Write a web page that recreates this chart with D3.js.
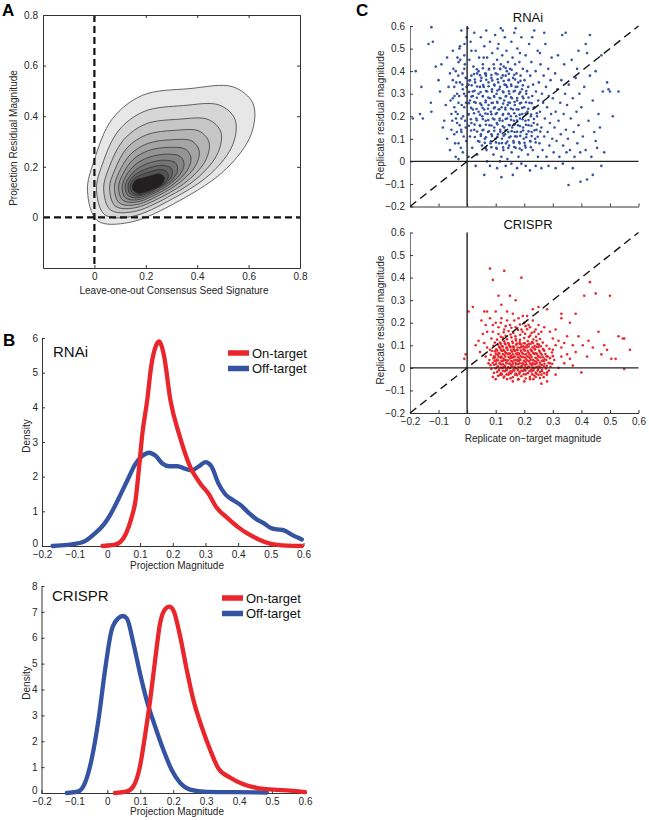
<!DOCTYPE html>
<html><head><meta charset="utf-8">
<script src="https://cdn.jsdelivr.net/npm/d3@7"></script>
<style>
body{margin:0;background:#fff}
svg{display:block}
text{font-family:"Liberation Sans",Arial,Helvetica,sans-serif}
</style>
</head><body>
<svg id="fig" width="649" height="820"></svg>
<script>
// ---------------- DATA ----------------
// Panel A: filled density contours (outer -> core), points in data units
const contourRings = [
 [[-0.027,0.106],[-0.001,0.225],[0.070,0.390],[0.188,0.483],[0.370,0.509],[0.539,0.516],[0.617,0.450],[0.611,0.331],[0.513,0.192],[0.331,0.066],[0.135,-0.020],[0.012,-0.013]],
 [[0.008,0.110],[0.031,0.210],[0.094,0.343],[0.194,0.419],[0.346,0.442],[0.486,0.444],[0.547,0.388],[0.539,0.289],[0.455,0.175],[0.303,0.073],[0.143,0.003],[0.040,0.011]],
 [[0.036,0.113],[0.057,0.197],[0.113,0.306],[0.199,0.369],[0.328,0.388],[0.443,0.387],[0.492,0.338],[0.481,0.256],[0.408,0.162],[0.282,0.078],[0.149,0.022],[0.062,0.030]],
 [[0.059,0.116],[0.079,0.187],[0.128,0.276],[0.204,0.327],[0.312,0.344],[0.408,0.341],[0.446,0.297],[0.434,0.228],[0.370,0.151],[0.264,0.082],[0.153,0.037],[0.081,0.045]],
 [[0.078,0.118],[0.096,0.179],[0.141,0.250],[0.207,0.292],[0.300,0.307],[0.379,0.302],[0.408,0.263],[0.394,0.205],[0.337,0.142],[0.249,0.086],[0.157,0.049],[0.096,0.058]],
 [[0.094,0.120],[0.111,0.172],[0.151,0.229],[0.210,0.264],[0.289,0.277],[0.355,0.269],[0.376,0.235],[0.362,0.187],[0.311,0.134],[0.236,0.089],[0.161,0.060],[0.109,0.069]],
 [[0.108,0.121],[0.124,0.166],[0.161,0.210],[0.213,0.238],[0.280,0.250],[0.334,0.241],[0.349,0.210],[0.333,0.170],[0.288,0.128],[0.225,0.092],[0.164,0.069],[0.120,0.078]],
 [[0.120,0.123],[0.136,0.160],[0.169,0.194],[0.215,0.216],[0.271,0.226],[0.315,0.216],[0.324,0.189],[0.308,0.155],[0.267,0.122],[0.216,0.094],[0.166,0.077],[0.130,0.087]],
 [[0.131,0.124],[0.145,0.156],[0.176,0.180],[0.217,0.197],[0.264,0.206],[0.299,0.194],[0.303,0.170],[0.286,0.143],[0.249,0.117],[0.208,0.096],[0.168,0.084],[0.138,0.094]],
 [[0.140,0.125],[0.153,0.152],[0.182,0.168],[0.219,0.181],[0.259,0.189],[0.285,0.177],[0.286,0.154],[0.268,0.132],[0.235,0.113],[0.201,0.098],[0.170,0.089],[0.145,0.100]],
 [[0.148,0.126],[0.162,0.148],[0.188,0.156],[0.220,0.165],[0.253,0.172],[0.272,0.159],[0.268,0.139],[0.250,0.122],[0.220,0.109],[0.194,0.099],[0.172,0.095],[0.152,0.106]]
];
const contourFills = ["#e7e7e7","#d6d6d6","#c6c6c6","#b5b5b5","#a4a4a4","#949494","#848484","#747474","#646464","#545454","#231f20"];
const aTicks = [0, 0.2, 0.4, 0.6, 0.8];

// Panel B: density curves [x, density]
const rnaiOn = [[-0.015,0],[0.02,0.03],[0.04,0.12],[0.056,0.34],[0.074,0.82],[0.086,1.31],[0.097,2.27],[0.107,3.24],[0.122,4.21],[0.134,5.18],[0.148,5.76],[0.158,5.9],[0.173,5.5],[0.193,4.2],[0.219,3.24],[0.254,2.27],[0.285,1.79],[0.31,1.5],[0.334,1.11],[0.366,0.82],[0.402,0.53],[0.432,0.34],[0.463,0.19],[0.498,0.07],[0.549,0.01],[0.595,0]];
const rnaiOff = [[-0.168,0],[-0.122,0.03],[-0.071,0.13],[-0.041,0.34],[-0.010,0.63],[0.010,0.92],[0.036,1.40],[0.061,1.89],[0.086,2.37],[0.107,2.6],[0.127,2.69],[0.148,2.6],[0.168,2.38],[0.19,2.3],[0.214,2.3],[0.24,2.22],[0.258,2.18],[0.28,2.3],[0.30,2.42],[0.318,2.3],[0.34,1.8],[0.36,1.5],[0.385,1.32],[0.405,1.2],[0.43,0.98],[0.455,0.78],[0.478,0.66],[0.50,0.52],[0.52,0.48],[0.54,0.45],[0.565,0.32],[0.595,0.19]];
const crisprOn = [[0.023,0],[0.059,0.06],[0.079,0.26],[0.099,1.03],[0.114,2.19],[0.130,3.6],[0.145,5.14],[0.160,6.56],[0.175,7.1],[0.188,7.2],[0.200,7.07],[0.221,6.05],[0.241,4.76],[0.261,3.6],[0.286,2.57],[0.312,1.67],[0.337,0.95],[0.372,0.6],[0.413,0.34],[0.453,0.2],[0.504,0.13],[0.555,0.09],[0.6,0.03]];
const crisprOff = [[-0.123,0],[-0.088,0.06],[-0.068,0.39],[-0.048,1.29],[-0.027,2.83],[-0.007,4.76],[0.013,6.3],[0.033,6.75],[0.047,6.84],[0.059,6.75],[0.079,5.79],[0.099,4.63],[0.119,3.6],[0.145,2.57],[0.170,1.67],[0.195,0.9],[0.221,0.39],[0.251,0.13],[0.302,0.04],[0.383,0.03],[0.484,0.02]];
const bXTicks = [-0.2,-0.1,0,0.1,0.2,0.3,0.4,0.5,0.6];
const rnaiYTicks = [0,1,2,3,4,5,6];
const crisprYTicks = [0,1,2,3,4,5,6,7,8];
const legendLabels = ["On-target","Off-target"];

// Panel C: replicate scatter [on-target, residual]
const cTicks = [-0.2,-0.1,0,0.1,0.2,0.3,0.4,0.5,0.6];
const rnaiScatter = [
[-0.19,0.19],[-0.18,0.40],[-0.165,0.21],[-0.16,0.33],[-0.155,0.19],[-0.135,0.52],[-0.12,0.53],[-0.125,0.595],[-0.127,0.26],[-0.125,0.22],[-0.11,0.42],[-0.10,0.36],[-0.09,0.43],[-0.095,0.31],[-0.085,0.15],[-0.08,0.18],[-0.075,0.25],[-0.07,0.10],[-0.07,0.46],[-0.065,0.33],[-0.06,0.39],[-0.06,0.05],[-0.055,0.21],[-0.055,0.14],[-0.05,0.49],[-0.05,0.28],[-0.05,0.36],
[-0.045,0.12],[-0.04,0.22],[-0.04,0.40],[-0.04,0.02],[-0.035,0.30],[-0.035,0.17],[-0.03,0.44],[-0.03,0.08],[-0.03,0.26],[-0.025,0.35],[-0.025,0.51],[-0.02,0.19],[-0.02,0.58],[-0.02,0.13],[-0.015,0.32],[-0.015,0.04],[-0.01,0.24],[-0.01,0.41],[-0.01,0.47],[-0.005,0.15],[-0.005,0.29],[-0.005,0.37],[-0.002,0.55],[-0.03,0.01],[-0.045,0.33],
[-0.058,0.27],[-0.052,0.18],[-0.048,0.41],[-0.045,0.24],[-0.042,0.08],[-0.038,0.35],[-0.036,0.13],[-0.033,0.21],[-0.031,0.38],[-0.028,0.29],[-0.026,0.16],[-0.024,0.45],[-0.022,0.06],[-0.019,0.25],[-0.017,0.34],[-0.014,0.20],[-0.012,0.11],[-0.011,0.30],[-0.008,0.43],[-0.007,0.18],[-0.004,0.26],[-0.003,0.09],[-0.002,0.33],[-0.016,0.39],[-0.027,0.50],[-0.044,0.29],[-0.034,0.46],[-0.009,0.52],[-0.021,0.14],[-0.039,0.19],
[0.002,0.59],[0.005,0.21],[0.005,0.34],[0.008,0.45],[0.01,0.11],[0.01,0.27],[0.012,0.53],[0.015,0.38],[0.015,0.17],[0.018,0.06],[0.02,0.31],[0.02,0.23],[0.022,0.42],[0.025,0.57],[0.025,0.14],[0.028,0.35],[0.03,0.49],[0.03,0.26],[0.032,0.19],[0.035,0.03],[0.035,0.39],[0.038,0.09],[0.04,0.30],[0.04,0.22],[0.042,0.46],[0.045,0.16],[0.045,0.33],[0.048,0.55],[0.048,0.12],[0.005,0.02],[0.03,-0.02],[0.02,0.29],[0.01,0.36],[0.04,0.40],[0.015,0.49],
[0.05,0.25],[0.05,0.37],[0.052,0.07],[0.053,0.20],[0.055,0.43],[0.055,0.29],[0.057,0.14],[0.058,0.33],[0.06,0.51],[0.06,0.23],[0.062,0.10],[0.063,0.39],[0.065,0.18],[0.065,0.27],[0.067,0.58],[0.068,0.05],[0.07,0.31],[0.07,0.46],[0.072,0.21],[0.073,0.13],[0.075,0.35],[0.075,0.25],[0.077,0.41],[0.078,0.16],[0.08,0.53],[0.08,0.28],[0.082,0.08],[0.083,0.22],[0.085,0.37],[0.085,0.12],[0.087,0.32],[0.088,0.48],[0.09,0.19],[0.09,0.26],[0.092,0.03],[0.093,0.43],[0.095,0.15],[0.095,0.34],[0.097,0.24],[0.098,0.56],[0.099,0.10],[0.06,-0.06],[0.08,-0.02],[0.07,0.00],[0.094,0.29],[0.058,0.46],[0.066,0.38],
[0.10,0.21],[0.10,0.39],[0.102,0.06],[0.103,0.30],[0.104,0.17],[0.105,0.45],[0.106,0.26],[0.108,0.12],[0.109,0.35],[0.11,0.52],[0.11,0.23],[0.112,0.08],[0.113,0.32],[0.114,0.19],[0.115,0.41],[0.116,0.14],[0.117,0.28],[0.118,0.59],[0.12,0.37],[0.12,0.02],[0.121,0.24],[0.122,0.10],[0.123,0.47],[0.124,0.18],[0.125,0.31],[0.126,0.21],[0.127,0.05],[0.128,0.42],[0.13,0.15],[0.13,0.27],[0.131,0.34],[0.132,0.55],[0.133,0.12],[0.134,0.23],[0.135,0.38],[0.136,0.08],[0.137,0.29],[0.138,0.49],[0.14,0.19],[0.14,0.33],[0.141,0.01],[0.142,0.25],[0.143,0.44],[0.144,0.13],[0.145,0.36],[0.146,0.21],[0.147,0.07],[0.148,0.30],[0.149,0.16],[0.12,-0.07],[0.105,-0.03],[0.135,-0.02],[0.115,0.00],[0.125,0.58],[0.107,0.50],[0.118,0.43],[0.139,0.40],
[0.15,0.26],[0.15,0.41],[0.152,0.11],[0.153,0.20],[0.154,0.34],[0.155,0.53],[0.156,0.04],[0.157,0.28],[0.158,0.15],[0.159,0.46],[0.16,0.23],[0.161,0.37],[0.162,0.09],[0.163,0.31],[0.164,0.18],[0.165,0.57],[0.166,0.13],[0.167,0.25],[0.168,0.43],[0.17,0.06],[0.17,0.33],[0.172,0.20],[0.173,0.39],[0.174,0.11],[0.175,0.27],[0.176,0.50],[0.178,0.16],[0.179,0.35],[0.18,0.02],[0.18,0.23],[0.182,0.30],[0.183,0.44],[0.184,0.08],[0.185,0.19],[0.187,0.38],[0.188,0.13],[0.189,0.26],[0.19,0.55],[0.191,0.05],[0.192,0.32],[0.193,0.21],[0.195,0.41],[0.196,0.15],[0.197,0.28],[0.198,0.10],[0.16,-0.06],[0.175,-0.03],[0.19,-0.01],[0.155,-0.01],[0.185,0.48],[0.17,0.59],
[0.20,0.24],[0.201,0.36],[0.203,0.07],[0.204,0.18],[0.205,0.47],[0.207,0.30],[0.208,0.12],[0.21,0.40],[0.211,0.22],[0.213,0.03],[0.214,0.33],[0.215,0.16],[0.217,0.52],[0.218,0.26],[0.22,0.09],[0.221,0.38],[0.223,0.20],[0.225,0.44],[0.226,0.13],[0.228,0.29],[0.23,0.05],[0.231,0.34],[0.233,0.17],[0.235,0.58],[0.236,0.24],[0.238,0.10],[0.24,0.40],[0.241,0.31],[0.243,0.14],[0.245,0.20],[0.247,0.49],[0.248,0.02],[0.249,0.27],[0.22,-0.04],[0.24,-0.02],[0.205,-0.02],[0.228,0.55],
[0.251,0.35],[0.253,0.08],[0.255,0.22],[0.257,0.43],[0.26,0.15],[0.262,0.30],[0.264,0.05],[0.266,0.26],[0.268,0.38],[0.27,0.11],[0.272,0.19],[0.274,0.52],[0.276,0.33],[0.278,0.02],[0.28,0.24],[0.282,0.13],[0.284,0.41],[0.286,0.29],[0.288,0.07],[0.29,0.17],[0.292,0.36],[0.294,0.21],[0.296,0.46],[0.298,0.10],[0.26,-0.03],[0.285,-0.02],[0.27,0.57],[0.255,0.48],
[0.30,0.28],[0.303,0.04],[0.306,0.15],[0.308,0.39],[0.31,0.22],[0.313,0.09],[0.316,0.32],[0.318,0.47],[0.32,0.18],[0.323,0.02],[0.326,0.26],[0.328,0.12],[0.33,0.36],[0.333,0.56],[0.336,0.07],[0.338,0.21],[0.34,0.43],[0.343,0.30],[0.346,0.14],[0.348,0.04],[0.31,-0.03],[0.335,-0.01],[0.345,0.57],
[0.35,0.25],[0.353,0.10],[0.356,0.34],[0.36,0.05],[0.363,0.19],[0.366,0.45],[0.37,0.28],[0.373,0.13],[0.376,0.02],[0.38,0.37],[0.383,0.22],[0.386,0.08],[0.39,0.16],[0.393,0.30],[0.396,0.04],[0.355,-0.105],[0.397,-0.09],[0.37,-0.03],[0.39,0.49],[0.385,0.41],
[0.40,0.24],[0.405,0.11],[0.41,0.33],[0.415,0.05],[0.42,0.48],[0.42,-0.08],[0.425,0.18],[0.43,0.38],[0.435,0.02],[0.44,0.27],[0.445,0.13],[0.45,0.40],[0.455,0.06],[0.46,0.21],[0.465,0.15],[0.47,0.47],[0.475,0.31],[0.48,0.04],[0.49,0.35],[0.495,0.32],[0.50,0.31],[0.51,0.20],[0.53,0.31],[0.44,-0.06],[0.47,-0.02],[0.415,0.52],[0.45,0.09],[0.43,0.56],
[0.065,0.058],[0.085,0.063],[0.104,0.056],[0.126,0.062],[0.144,0.059],[0.165,0.064],[0.184,0.057],[0.205,0.061],[0.223,0.063],
[0.043,0.087],[0.062,0.082],[0.083,0.089],[0.101,0.084],[0.122,0.081],[0.141,0.088],[0.163,0.083],[0.182,0.086],[0.201,0.082],[0.222,0.088],[0.24,0.084],
[0.027,0.108],[0.048,0.113],[0.066,0.107],[0.087,0.112],[0.106,0.109],[0.128,0.114],[0.147,0.106],[0.168,0.111],[0.186,0.113],[0.207,0.107],[0.226,0.112],[0.247,0.109],
[0.014,0.137],[0.035,0.132],[0.054,0.138],[0.076,0.133],[0.095,0.136],[0.116,0.131],[0.135,0.138],[0.156,0.134],[0.175,0.131],[0.196,0.137],[0.215,0.133],[0.236,0.138],[0.256,0.132],
[0.006,0.158],[0.026,0.163],[0.045,0.157],[0.066,0.162],[0.085,0.159],[0.106,0.164],[0.125,0.156],[0.146,0.161],[0.166,0.163],[0.185,0.157],[0.206,0.162],[0.225,0.158],[0.246,0.163],
[0.013,0.187],[0.034,0.182],[0.055,0.188],[0.074,0.183],[0.095,0.186],[0.114,0.181],[0.135,0.188],[0.154,0.184],[0.175,0.181],[0.194,0.187],[0.215,0.183],[0.234,0.188],
[0.005,0.208],[0.024,0.213],[0.045,0.207],[0.064,0.212],[0.085,0.209],[0.104,0.214],[0.125,0.206],[0.144,0.211],[0.165,0.213],[0.184,0.207],[0.205,0.212],[0.224,0.208],[0.244,0.213],
[0.014,0.237],[0.033,0.232],[0.054,0.238],[0.073,0.233],[0.094,0.236],[0.113,0.231],[0.134,0.238],[0.153,0.234],[0.174,0.231],[0.193,0.237],[0.214,0.233],[0.233,0.238],
[0.006,0.258],[0.025,0.263],[0.046,0.257],[0.065,0.262],[0.086,0.259],[0.105,0.264],[0.126,0.256],[0.145,0.261],[0.166,0.263],[0.185,0.257],[0.206,0.262],[0.226,0.258],
[0.015,0.287],[0.034,0.282],[0.055,0.288],[0.074,0.283],[0.095,0.286],[0.114,0.281],[0.135,0.288],[0.154,0.284],[0.175,0.281],[0.194,0.287],[0.215,0.283],
[0.007,0.308],[0.026,0.313],[0.047,0.307],[0.066,0.312],[0.087,0.309],[0.106,0.314],[0.127,0.306],[0.146,0.311],[0.167,0.313],[0.186,0.307],[0.207,0.312],
[0.016,0.337],[0.035,0.332],[0.056,0.338],[0.075,0.333],[0.096,0.336],[0.115,0.331],[0.136,0.338],[0.155,0.334],[0.176,0.331],[0.195,0.337],
[0.008,0.358],[0.027,0.363],[0.048,0.357],[0.067,0.362],[0.088,0.359],[0.107,0.364],[0.128,0.356],[0.147,0.361],[0.168,0.363],[0.187,0.357],
[0.024,0.387],[0.045,0.382],[0.066,0.388],[0.085,0.383],[0.106,0.386],[0.125,0.381],[0.146,0.388],[0.165,0.384],
[0.034,0.408],[0.055,0.413],[0.076,0.407],[0.095,0.412],[0.116,0.409],[0.135,0.414],[0.156,0.406]
];
const crisprScatter = [
[0.08,0.44],[0.13,0.43],[0.09,0.39],[0.19,0.40],[0.15,0.32],[0.17,0.30],[0.11,0.32],[0.43,0.38],[0.38,0.24],[0.45,0.33],[0.41,0.32],[0.50,0.32],[0.33,0.24],[0.53,0.14],[0.55,0.13],[0.57,0.08],[0.545,0.13],[0.505,0.04],[0.52,0.04],[0.55,-0.005],[0.40,-0.02],[0.02,0.27],[0.005,0.25],[-0.01,0.04],[-0.005,0.06],[0.06,0.25],[0.07,0.25],[0.05,0.21],[0.03,0.10],[0.04,0.12],[0.045,0.07],[0.25,0.27],[0.23,0.26],[0.28,0.26],[0.33,0.22],[0.36,0.20],[0.46,0.16],[0.48,0.10],[0.47,0.06],[0.44,0.09],[0.42,0.05],[0.425,0.12],[0.39,0.14],[0.405,0.10],[0.37,0.10],[0.12,0.28],[0.10,0.25],[0.08,0.22],[0.09,0.19],[0.28,-0.06],[0.26,-0.07],[0.09,-0.04],[0.10,-0.05],[0.49,0.08],
[0.11,0.18],[0.12,0.22],[0.13,0.17],[0.14,0.21],[0.15,0.19],[0.16,0.24],[0.17,0.18],[0.18,0.22],[0.19,0.17],[0.20,0.20],[0.21,0.23],[0.22,0.18],[0.23,0.21],[0.24,0.17],[0.25,0.19],[0.26,0.16],[0.27,0.18],[0.29,0.16],[0.31,0.17],[0.30,0.13],[0.32,0.12],[0.33,0.09],[0.34,0.11],[0.35,0.06],[0.36,0.04],[0.34,0.02],[0.32,0.00],[0.31,-0.03],[0.33,0.05],[0.35,0.14],[0.38,0.07],[0.37,0.01],[0.30,0.08],[0.085,0.13],[0.07,0.16],[0.06,0.11],[0.065,0.05],[0.075,0.02],[0.08,0.08],[0.07,0.09],[0.055,0.15],[0.065,0.19],[0.09,0.16],[0.10,0.20],[0.14,0.25],[0.165,0.21],[0.195,0.23],[0.215,0.19],[0.235,0.16],[0.12,-0.03],[0.14,-0.05],[0.16,-0.06],[0.18,-0.05],[0.20,-0.06],[0.22,-0.05],[0.24,-0.04],[0.26,-0.03],[0.28,-0.02],[0.29,0.02],
[0.105,0.125],[0.118,0.138],[0.097,0.112],[0.11,0.15],[0.128,0.158],[0.145,0.163],[0.162,0.155],[0.178,0.168],[0.194,0.16],[0.21,0.171],[0.226,0.155],[0.241,0.138],[0.255,0.128],[0.265,0.112],[0.278,0.098],[0.288,0.085],[0.297,0.068],[0.3,0.052],[0.305,0.035],[0.298,0.018],[0.292,0.005],[0.286,-0.012],[0.279,-0.03],[0.268,-0.041],[0.255,-0.045],[0.232,-0.05],[0.205,-0.047],[0.178,-0.052],[0.152,-0.046],[0.128,-0.043],[0.108,-0.035],[0.094,-0.022],[0.085,-0.005],[0.082,0.012],[0.078,0.035],[0.083,0.058],[0.088,0.075],[0.092,0.098],[0.135,0.185],[0.155,0.178],[0.185,0.192],[0.118,0.2],[0.205,0.185],[0.25,0.15],[0.31,0.1],
[0.115,-0.032],[0.13,-0.038],[0.145,-0.03],[0.16,-0.041],[0.175,-0.033],[0.19,-0.037],[0.205,-0.029],[0.22,-0.04],[0.235,-0.034],[0.25,-0.031],
[0.105,-0.018],[0.118,-0.024],[0.132,-0.015],[0.147,-0.022],[0.158,-0.017],[0.171,-0.025],[0.184,-0.019],[0.197,-0.014],[0.212,-0.023],[0.226,-0.016],[0.24,-0.021],[0.255,-0.018],[0.27,-0.024],
[0.10,-0.002],[0.112,-0.008],[0.125,0.001],[0.137,-0.006],[0.15,-0.001],[0.162,-0.009],[0.174,-0.003],[0.187,0.002],[0.199,-0.007],[0.211,-0.002],[0.224,-0.008],[0.236,0.000],[0.249,-0.005],[0.262,-0.009],[0.276,-0.003],
[0.095,0.013],[0.108,0.007],[0.12,0.015],[0.132,0.009],[0.143,0.004],[0.155,0.012],[0.166,0.006],[0.178,0.016],[0.19,0.008],[0.202,0.013],[0.214,0.005],[0.226,0.011],[0.238,0.016],[0.25,0.007],[0.263,0.012],[0.279,0.009],
[0.09,0.022],[0.102,0.028],[0.114,0.021],[0.126,0.03],[0.137,0.024],[0.148,0.019],[0.159,0.027],[0.17,0.023],[0.181,0.031],[0.193,0.02],[0.205,0.026],[0.217,0.029],[0.229,0.021],[0.242,0.027],[0.255,0.024],[0.268,0.03],[0.285,0.022],
[0.092,0.043],[0.104,0.037],[0.116,0.045],[0.128,0.039],[0.139,0.034],[0.15,0.042],[0.161,0.046],[0.172,0.036],[0.183,0.041],[0.195,0.047],[0.207,0.038],[0.219,0.044],[0.231,0.035],[0.244,0.041],[0.257,0.046],[0.271,0.038],[0.29,0.043],
[0.095,0.052],[0.107,0.058],[0.119,0.05],[0.131,0.057],[0.142,0.061],[0.153,0.053],[0.164,0.049],[0.175,0.059],[0.186,0.054],[0.198,0.06],[0.21,0.051],[0.222,0.056],[0.235,0.062],[0.248,0.053],[0.262,0.058],[0.278,0.051],
[0.098,0.073],[0.11,0.067],[0.122,0.075],[0.134,0.069],[0.146,0.064],[0.157,0.072],[0.168,0.077],[0.179,0.066],[0.19,0.071],[0.202,0.076],[0.214,0.068],[0.227,0.074],[0.24,0.065],[0.254,0.071],[0.27,0.076],
[0.102,0.082],[0.115,0.088],[0.127,0.08],[0.139,0.087],[0.151,0.091],[0.163,0.083],[0.174,0.079],[0.185,0.089],[0.197,0.084],[0.209,0.09],[0.222,0.081],[0.236,0.086],[0.25,0.092],[0.266,0.083],
[0.108,0.103],[0.121,0.097],[0.134,0.105],[0.147,0.099],[0.16,0.094],[0.172,0.102],[0.184,0.107],[0.196,0.096],[0.209,0.101],[0.222,0.106],[0.236,0.098],[0.251,0.103],
[0.115,0.112],[0.13,0.118],[0.144,0.11],[0.158,0.117],[0.171,0.121],[0.184,0.113],[0.198,0.109],[0.212,0.119],[0.227,0.114],[0.243,0.12],
[0.125,0.133],[0.14,0.127],[0.155,0.135],[0.17,0.129],[0.185,0.124],[0.2,0.132],[0.216,0.137],[0.232,0.126],
[0.135,0.142],[0.152,0.148],[0.169,0.14],[0.186,0.147],[0.203,0.151],[0.221,0.143],
[0.122,-0.027],[0.138,-0.029],[0.153,-0.025],[0.168,-0.03],[0.183,-0.026],[0.198,-0.028],[0.213,-0.024],[0.228,-0.029],[0.243,-0.026],
[0.111,-0.011],[0.125,-0.013],[0.139,-0.01],[0.152,-0.014],[0.165,-0.012],[0.178,-0.01],[0.19,-0.013],[0.204,-0.011],[0.218,-0.014],[0.232,-0.01],[0.247,-0.012],[0.262,-0.015],
[0.106,0.004],[0.118,0.001],[0.131,0.005],[0.143,0.002],[0.156,0.006],[0.168,0.001],[0.18,0.004],[0.193,0.006],[0.205,0.002],[0.217,0.005],[0.23,0.001],[0.243,0.004],[0.256,0.003],[0.27,0.006],
[0.101,0.017],[0.114,0.019],[0.126,0.016],[0.138,0.02],[0.149,0.017],[0.161,0.019],[0.172,0.016],[0.184,0.02],[0.196,0.018],[0.208,0.016],[0.22,0.019],[0.232,0.017],[0.244,0.02],[0.257,0.016],[0.271,0.018],
[0.096,0.032],[0.108,0.034],[0.12,0.031],[0.132,0.035],[0.143,0.033],[0.154,0.03],[0.165,0.034],[0.176,0.032],[0.187,0.035],[0.199,0.031],[0.211,0.033],[0.223,0.036],[0.236,0.03],[0.249,0.034],[0.262,0.032],[0.277,0.035],
[0.098,0.047],[0.11,0.05],[0.122,0.046],[0.134,0.049],[0.145,0.048],[0.156,0.045],[0.167,0.05],[0.178,0.047],[0.19,0.049],[0.202,0.046],[0.214,0.05],[0.226,0.048],[0.239,0.045],[0.252,0.049],[0.266,0.047],[0.282,0.05],
[0.101,0.062],[0.113,0.064],[0.125,0.061],[0.137,0.065],[0.149,0.063],[0.16,0.06],[0.171,0.064],[0.182,0.062],[0.194,0.065],[0.206,0.061],[0.218,0.063],[0.231,0.066],[0.244,0.062],[0.258,0.064],[0.274,0.061],
[0.105,0.077],[0.118,0.079],[0.13,0.076],[0.142,0.08],[0.154,0.078],[0.166,0.075],[0.177,0.079],[0.188,0.077],[0.2,0.08],[0.212,0.076],[0.225,0.078],[0.238,0.081],[0.252,0.077],[0.268,0.079],
[0.112,0.092],[0.125,0.094],[0.138,0.091],[0.151,0.095],[0.164,0.093],[0.177,0.09],[0.19,0.094],[0.203,0.092],[0.216,0.095],[0.229,0.091],[0.243,0.093],[0.258,0.096],
[0.118,0.107],[0.132,0.109],[0.146,0.106],[0.16,0.11],[0.174,0.108],[0.188,0.105],[0.202,0.109],[0.216,0.107],[0.231,0.11],[0.246,0.106]
];

// ---------------- DRAW ----------------
const svg = d3.select("#fig");
const RED = "#e8262b", BLUE = "#3553a3", TXT = "#262626";
const fmt = d => (d < 0 ? "\u2212" : "") + String(Math.abs(Math.round(d*10)/10));

function styleAxis(g, showDomain) {
  g.attr("font-family", null).attr("font-size", null);
  g.selectAll("text").attr("font-size", 10).attr("fill", TXT)
    .style("font-family", '"Liberation Sans",Arial,sans-serif');
  g.selectAll(".tick line").attr("stroke", "#333");
  g.select(".domain").attr("stroke", showDomain ? "#333" : "none");
}
function label(x, y, t, opts = {}) {
  const el = svg.append("text").attr("x", x).attr("y", y).text(t)
    .attr("font-size", opts.size || 10).attr("fill", opts.fill || TXT)
    .attr("text-anchor", opts.anchor || "middle");
  if (opts.bold) el.attr("font-weight", "bold");
  if (opts.rotate) el.attr("transform", `rotate(-90,${x},${y})`);
  return el;
}

// Panel letters
label(2, 16, "A", {size: 17, bold: true, anchor: "start", fill: "#000"});
label(3, 346, "B", {size: 17, bold: true, anchor: "start", fill: "#000"});
label(356, 16, "C", {size: 17, bold: true, anchor: "start", fill: "#000"});

// ---------- Panel A ----------
{
  const x = d3.scaleLinear().domain([-0.2, 0.8]).range([43, 300]);
  const y = d3.scaleLinear().domain([-0.2, 0.8]).range([268, 15]);
  const ring = d3.line().x(d => x(d[0])).y(d => y(d[1])).curve(d3.curveCatmullRomClosed.alpha(0.5));
  svg.append("g").selectAll("path").data(contourRings).join("path")
    .attr("d", ring).attr("fill", (d, i) => contourFills[i])
    .attr("stroke", "#2a2a2a").attr("stroke-width", 0.7);
  svg.append("line").attr("x1", x(0)).attr("x2", x(0)).attr("y1", y(0.8)).attr("y2", y(-0.2))
    .attr("stroke", "#111").attr("stroke-width", 2.2).attr("stroke-dasharray", "7,4");
  svg.append("line").attr("x1", x(-0.2)).attr("x2", x(0.8)).attr("y1", y(0)).attr("y2", y(0))
    .attr("stroke", "#111").attr("stroke-width", 2.2).attr("stroke-dasharray", "7,4");
  const gb = svg.append("g").attr("transform", `translate(0,${y(-0.2)})`)
    .call(d3.axisBottom(x).tickValues(aTicks).tickSize(-3).tickSizeOuter(0).tickPadding(5).tickFormat(fmt));
  styleAxis(gb, true);
  const gt = svg.append("g").attr("transform", `translate(0,${y(0.8)})`)
    .call(d3.axisTop(x).tickValues(aTicks).tickSize(-3).tickSizeOuter(0).tickFormat(""));
  styleAxis(gt, true);
  const gl = svg.append("g").attr("transform", `translate(${x(-0.2)},0)`)
    .call(d3.axisLeft(y).tickValues(aTicks).tickSize(-3).tickSizeOuter(0).tickPadding(5).tickFormat(fmt));
  styleAxis(gl, true);
  const gr = svg.append("g").attr("transform", `translate(${x(0.8)},0)`)
    .call(d3.axisRight(y).tickValues(aTicks).tickSize(-3).tickSizeOuter(0).tickFormat(""));
  styleAxis(gr, true);
  label(17, 138, "Projection Residual Magnitude", {rotate: true});
  label(174, 294, "Leave-one-out Consensus Seed Signature");
}

// ---------- Panel B ----------
function densityPanel(cfg) {
  const x = d3.scaleLinear().domain([-0.2, 0.6]).range(cfg.xr);
  const y = d3.scaleLinear().domain([0, cfg.ymax]).range(cfg.yr);
  const line = d3.line().x(d => x(d[0])).y(d => y(d[1])).curve(d3.curveMonotoneX);
  const gx = svg.append("g").attr("transform", `translate(0,${cfg.yr[0]})`)
    .call(d3.axisBottom(x).tickValues(bXTicks).tickSize(-3).tickSizeOuter(0).tickPadding(4.5).tickFormat(fmt));
  styleAxis(gx, true);
  const gy = svg.append("g").attr("transform", `translate(${cfg.xr[0]},0)`)
    .call(d3.axisLeft(y).tickValues(cfg.yticks).tickSize(-3).tickSizeOuter(0).tickPadding(4).tickFormat(d3.format("d")));
  styleAxis(gy, true);
  gy.selectAll(".tick text").filter(d => d === 0).attr("dy", "0.05em");
  svg.append("path").datum(cfg.off).attr("d", line).attr("fill", "none")
    .attr("stroke", BLUE).attr("stroke-width", 4.3).attr("stroke-linejoin", "round").attr("stroke-linecap", "round");
  svg.append("path").datum(cfg.on).attr("d", line).attr("fill", "none")
    .attr("stroke", RED).attr("stroke-width", 4.3).attr("stroke-linejoin", "round").attr("stroke-linecap", "round");
  label(cfg.titleX, cfg.titleY, cfg.title, {size: 15, anchor: "start", fill: "#111"});
  [RED, BLUE].forEach((c, i) => {
    const ly = cfg.legY + i * 15.5;
    svg.append("line").attr("x1", cfg.legX).attr("x2", cfg.legX + 21).attr("y1", ly).attr("y2", ly)
      .attr("stroke", c).attr("stroke-width", 5.5);
    label(cfg.legX + 24, ly + 4.5, legendLabels[i], {size: 13, anchor: "start", fill: "#111"});
  });
  label(cfg.ylabX, cfg.ylabY, "Density", {rotate: true});
  label(177, cfg.xlabY, "Projection Magnitude");
}
densityPanel({xr: [42, 303.5], yr: [546, 338], ymax: 6, yticks: rnaiYTicks, on: rnaiOn, off: rnaiOff,
  title: "RNAi", titleX: 53, titleY: 357, legX: 228, legY: 353, ylabX: 30, ylabY: 436, xlabY: 569});
densityPanel({xr: [41.5, 305], yr: [793, 586], ymax: 8, yticks: crisprYTicks, on: crisprOn, off: crisprOff,
  title: "CRISPR", titleX: 52, titleY: 601, legX: 222, legY: 598, ylabX: 30, ylabY: 683, xlabY: 815});

// ---------- Panel C ----------
function scatterPanel(cfg) {
  const x = d3.scaleLinear().domain([-0.2, 0.6]).range([410, 638.5]);
  const y = d3.scaleLinear().domain([-0.2, 0.6]).range(cfg.yr);
  const gx = svg.append("g").attr("transform", `translate(0,${cfg.yr[0]})`)
    .call(d3.axisBottom(x).tickValues(cTicks).tickSize(-3).tickSizeOuter(0).tickPadding(5)
      .tickFormat(cfg.xLabels ? fmt : ""));
  styleAxis(gx, true);
  const gy = svg.append("g").attr("transform", `translate(410,0)`)
    .call(d3.axisLeft(y).tickValues(cTicks).tickSize(-3).tickSizeOuter(0).tickPadding(5).tickFormat(fmt));
  styleAxis(gy, true);
  gy.select(".domain").attr("stroke", "#777");
  svg.append("g").selectAll("circle").data(cfg.pts).join("circle")
    .attr("cx", d => x(d[0])).attr("cy", d => y(d[1])).attr("r", 1.3).attr("fill", cfg.color);
  svg.append("line").attr("x1", x(0)).attr("x2", x(0)).attr("y1", y(-0.2)).attr("y2", y(0.6))
    .attr("stroke", "#222").attr("stroke-width", 1.4);
  svg.append("line").attr("x1", x(-0.2)).attr("x2", x(0.6)).attr("y1", y(0)).attr("y2", y(0))
    .attr("stroke", "#222").attr("stroke-width", 1.4);
  svg.append("line").attr("x1", x(-0.2)).attr("x2", x(0.6)).attr("y1", y(-0.2)).attr("y2", y(0.6))
    .attr("stroke", "#111").attr("stroke-width", 1.4).attr("stroke-dasharray", "8,5");
  label(528, cfg.yr[1] - 4, cfg.title, {size: 13, fill: "#111"});
  label(384, cfg.ylabY, "Replicate residual magnitude", {rotate: true});
}
scatterPanel({yr: [206.5, 26], pts: rnaiScatter, color: BLUE, title: "RNAi", xLabels: false, ylabY: 115});
scatterPanel({yr: [413, 232.5], pts: crisprScatter, color: RED, title: "CRISPR", xLabels: true, ylabY: 320});
label(533, 442, "Replicate on\u2212target magnitude");
</script>
</body></html>
